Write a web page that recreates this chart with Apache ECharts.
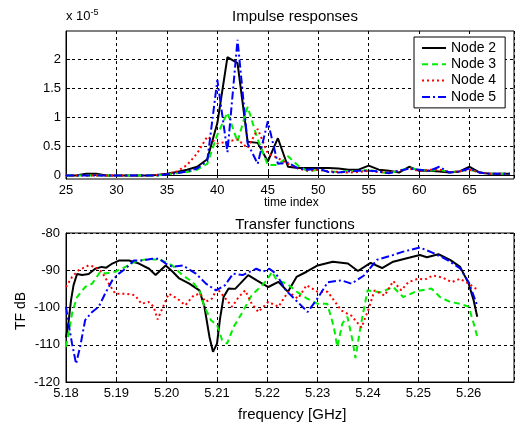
<!DOCTYPE html>
<html>
<head>
<meta charset="utf-8">
<script src="https://cdn.jsdelivr.net/npm/echarts@6/dist/echarts.min.js"></script>
<style>
  html, body { margin: 0; padding: 0; background: #fff; }
  #main { width: 520px; height: 428px; }
</style>
</head>
<body>
<div id="main"></div>
<script>
// impulse responses, time index 25..69, values in units of 1e-5
var timeIndex = [];
for (var t = 25; t <= 69; t++) timeIndex.push(t);
var irNode2 = [0, 0, 0.03, 0.03, 0, 0, 0, 0, 0, 0.01, 0.03, 0.06, 0.1, 0.15, 0.28, 0.9, 2.03, 1.93, 0.58, 0.56, 0.24, 0.64, 0.15, 0.13, 0.13, 0.13, 0.13, 0.12, 0.1, 0.1, 0.17, 0.1, 0.08, 0.05, 0.15, 0.08, 0.08, 0.07, 0.05, 0.07, 0.15, 0.05, 0.03, 0.03, 0.03];
var irNode3 = [0, 0, 0, 0, 0, 0, 0, 0, 0, 0, 0.02, 0.04, 0.06, 0.1, 0.2, 0.7, 1.08, 0.58, 1.18, 0.62, 0.18, 0.18, 0.33, 0.17, 0.07, 0.1, 0.07, 0.06, 0.08, 0.07, 0.1, 0.06, 0.04, 0.08, 0.13, 0.1, 0.08, 0.1, 0.06, 0.07, 0.1, 0.05, 0.03, 0.03, 0.03];
var irNode4 = [0, 0, 0, 0, 0, 0, 0, 0, 0, 0.01, 0.03, 0.07, 0.18, 0.38, 0.67, 0.55, 0.58, 0.62, 0.47, 0.8, 0.38, 0.3, 0.2, 0.12, 0.08, 0.1, 0.07, 0.06, 0.05, 0.06, 0.08, 0.06, 0.05, 0.08, 0.12, 0.08, 0.1, 0.1, 0.06, 0.07, 0.1, 0.05, 0.03, 0.03, 0.03];
var irNode5 = [0, 0, 0, 0, 0, 0, 0, 0, 0, 0, 0.02, 0.04, 0.07, 0.12, 0.25, 1.64, 0.4, 2.33, 0.55, 0.2, 0.93, 0.2, 0.22, 0.12, 0.1, 0.12, 0.06, 0.05, 0.07, 0.08, 0.08, 0.07, 0.04, 0.08, 0.12, 0.1, 0.08, 0.15, 0.05, 0.07, 0.12, 0.05, 0.03, 0.03, 0.03];
var irTicks = [0, 0.5, 1, 1.5, 2];

// transfer functions (frequency GHz, TF dB)
var tfNode2Freq = [5.18, 5.1805, 5.181, 5.1815, 5.1822, 5.1832, 5.1845, 5.1858, 5.1871, 5.188, 5.1892, 5.1905, 5.1925, 5.1945, 5.1965, 5.1978, 5.1988, 5.1998, 5.2012, 5.2025, 5.2045, 5.2065, 5.2075, 5.2085, 5.2092, 5.21, 5.2106, 5.2113, 5.2123, 5.2136, 5.2146, 5.2162, 5.2179, 5.2202, 5.2222, 5.2241, 5.2258, 5.2278, 5.23, 5.233, 5.236, 5.238, 5.2405, 5.2428, 5.245, 5.2483, 5.2503, 5.2517, 5.254, 5.2563, 5.2583, 5.26, 5.261, 5.2617];
var tfNode2 = [-108, -104, -98, -94, -91, -91.3, -91, -89.6, -89.1, -89.3, -88.2, -87.4, -87.4, -88.2, -89.6, -91.3, -90, -88.7, -90.4, -92.2, -93.6, -95.4, -99.8, -107.9, -111.9, -109.7, -103, -97.2, -94.9, -95, -93.6, -91.3, -92.7, -94.5, -93.1, -95.8, -91.8, -90.4, -88.7, -87.7, -88.2, -90.2, -88, -89.4, -87.7, -86.6, -85.9, -86.5, -85.7, -87.2, -89.1, -93.6, -98.2, -102.5];
var tfNode3Freq = [5.18, 5.1805, 5.1812, 5.1822, 5.1838, 5.1852, 5.1868, 5.1878, 5.1898, 5.1918, 5.1937, 5.1964, 5.1991, 5.2011, 5.2031, 5.2051, 5.2065, 5.2075, 5.2088, 5.21, 5.211, 5.212, 5.2133, 5.2149, 5.2169, 5.2186, 5.2199, 5.2209, 5.2219, 5.2239, 5.2259, 5.2279, 5.23, 5.2319, 5.2332, 5.2339, 5.2349, 5.2359, 5.2369, 5.2375, 5.2385, 5.2399, 5.2425, 5.245, 5.247, 5.2497, 5.2526, 5.2543, 5.2563, 5.2583, 5.26, 5.261, 5.2617];
var tfNode3 = [-110.6, -107, -101.6, -97.2, -94.5, -93.6, -90.4, -90.9, -90.4, -89.1, -87.7, -86.9, -87.4, -88.7, -91.3, -93.1, -95.4, -99.8, -103.4, -104.7, -108.7, -109.7, -105.2, -101.6, -96.7, -94.5, -92.7, -90.4, -92.7, -93.6, -95.8, -97.6, -99, -99, -105.2, -110.6, -104.3, -102.5, -108.7, -113.6, -105.2, -95.4, -95.9, -94.5, -97.2, -95.6, -94.9, -97.2, -98.5, -99, -99.8, -104.3, -107.9];
var tfNode4Freq = [5.18, 5.1812, 5.1825, 5.1845, 5.1858, 5.1871, 5.1885, 5.1898, 5.1918, 5.1937, 5.195, 5.1964, 5.1974, 5.1982, 5.199, 5.2004, 5.2021, 5.2037, 5.2054, 5.2067, 5.2077, 5.209, 5.21, 5.2117, 5.213, 5.2143, 5.2156, 5.2169, 5.2182, 5.2202, 5.2222, 5.2241, 5.2261, 5.2278, 5.23, 5.232, 5.2347, 5.2367, 5.2387, 5.24, 5.2413, 5.2433, 5.245, 5.2466, 5.248, 5.2499, 5.2513, 5.2529, 5.2549, 5.2566, 5.2583, 5.26, 5.2617];
var tfNode4 = [-94.5, -91.8, -90, -88.7, -89.1, -90.4, -93.6, -96.3, -96.3, -96.7, -99, -98.5, -99.8, -103.2, -100.7, -96.3, -97.6, -99.4, -96.7, -96.3, -98.5, -97.6, -94.9, -97.6, -99.8, -97.2, -95.4, -99, -101.2, -98.5, -99.8, -95.8, -97.6, -94, -95.8, -95.8, -100.8, -102.2, -105.4, -100.8, -95.4, -96.8, -92.9, -95.4, -93.2, -92.3, -92.5, -91.4, -92, -93.2, -92.3, -93.6, -95.2];
var tfNode5Freq = [5.18, 5.1805, 5.1812, 5.182, 5.1828, 5.1838, 5.1852, 5.1865, 5.1878, 5.1892, 5.1905, 5.1918, 5.1935, 5.1951, 5.1971, 5.1985, 5.1998, 5.2012, 5.2032, 5.2058, 5.2078, 5.2098, 5.2116, 5.2132, 5.2151, 5.2178, 5.2191, 5.2204, 5.2217, 5.2237, 5.2257, 5.228, 5.23, 5.232, 5.2347, 5.2367, 5.2392, 5.2418, 5.245, 5.247, 5.2503, 5.253, 5.2557, 5.2583, 5.26, 5.2617];
var tfNode5 = [-99.8, -104.3, -109.7, -115.1, -110.6, -103.4, -101.2, -99.8, -96.2, -92.7, -90.9, -89.6, -87.4, -87.4, -86.9, -86.9, -88.2, -89.1, -88.7, -90.9, -93.6, -95.4, -94, -90.9, -91.3, -89.6, -90.4, -89.6, -90.9, -95.4, -98.1, -101.2, -97.5, -93.2, -92.7, -93.6, -91.4, -87.2, -85.9, -85, -83.9, -85.4, -87.2, -89.5, -93.2, -99.5];

function pairs(xs, ys) {
  return xs.map(function (x, i) { return [x, ys[i]]; });
}

var font = 'Liberation Sans, Arial, sans-serif';
var gridLine = { show: true, lineStyle: { color: '#000', type: [3, 3], width: 1 } };
var tick = { show: true, inside: true, length: 4, lineStyle: { color: '#000' } };
var axLine = { show: true, lineStyle: { color: '#000', width: 1 } };
var lbl = { color: '#000', fontSize: 13, fontFamily: font };

var styles = {
  'Node 2': { color: '#000000', type: 'solid' },
  'Node 3': { color: '#00ee00', type: [6, 4] },
  'Node 4': { color: '#ff0000', type: [2, 3] },
  'Node 5': { color: '#0000ff', type: [8, 3, 2, 3] }
};

function line(name, data, idx) {
  var s = styles[name];
  return {
    name: name, type: 'line', data: data,
    xAxisIndex: idx, yAxisIndex: idx,
    symbol: 'none', silent: true, animation: false,
    itemStyle: { color: s.color },
    lineStyle: { color: s.color, type: s.type, width: 2 }
  };
}

var chart = echarts.init(document.getElementById('main'));
chart.setOption({
  backgroundColor: '#fff',
  animation: false,
  title: [
    { text: 'Impulse responses', left: 290, top: 4, textAlign: 'center',
      textStyle: { fontSize: 15, fontWeight: 'normal', color: '#000', fontFamily: font } },
    { text: 'Transfer functions', left: 290, top: 212, textAlign: 'center',
      textStyle: { fontSize: 15, fontWeight: 'normal', color: '#000', fontFamily: font } }
  ],
  graphic: [
    { type: 'text', left: 66, top: 8,
      style: { text: '{a|x 10}{b|-5}', rich: {
        a: { fontSize: 13, fontFamily: font, fill: '#000' },
        b: { fontSize: 9, fontFamily: font, fill: '#000', verticalAlign: 'top', padding: [0, 0, 8, 0] } } } },
    { type: 'text', left: 264, top: 197,
      style: { text: 'time index', fontSize: 12, fontFamily: font, fill: '#000' } },
    { type: 'text', left: 238, top: 407,
      style: { text: 'frequency [GHz]', fontSize: 15, fontFamily: font, fill: '#000' } },
    { type: 'text', x: 14, y: 330, rotation: Math.PI / 2,
      style: { text: 'TF dB', fontSize: 14, fontFamily: font, fill: '#000' } }
  ],
  legend: {
    data: ['Node 2', 'Node 3', 'Node 4', 'Node 5'],
    orient: 'vertical', left: 414, top: 37,
    itemWidth: 24, itemHeight: 14, itemGap: 2.3,
    padding: [4, 9, 4, 7],
    itemStyle: { opacity: 0, borderWidth: 0 },
    backgroundColor: '#fff', borderColor: '#000', borderWidth: 1,
    textStyle: { fontSize: 14, color: '#000', fontFamily: font }
  },
  grid: [
    { left: 66, top: 31, right: 6, height: 148, show: true, borderColor: '#000', borderWidth: 1, backgroundColor: '#fff' },
    { left: 66, top: 233, right: 6, height: 149, show: true, borderColor: '#000', borderWidth: 1, backgroundColor: '#fff' }
  ],
  xAxis: [
    { type: 'value', gridIndex: 0, min: 25, max: 69.4, interval: 5,
      axisLine: axLine, axisTick: tick, splitLine: gridLine,
      axisLabel: Object.assign({ margin: 5, showMaxLabel: false }, lbl) },
    { type: 'value', gridIndex: 1, min: 5.18, max: 5.269, interval: 0.01,
      axisLine: axLine, axisTick: tick, splitLine: gridLine,
      axisLabel: Object.assign({ margin: 5, showMaxLabel: false,
        formatter: function (v) { return v.toFixed(2); } }, lbl) }
  ],
  yAxis: [
    { type: 'value', gridIndex: 0, min: -0.06, max: 2.48,
      axisLine: axLine,
      axisTick: Object.assign({ customValues: irTicks }, tick),
      splitLine: gridLine,
      axisLabel: Object.assign({ margin: 5, customValues: irTicks }, lbl) },
    { type: 'value', gridIndex: 1, min: -120, max: -80, interval: 10,
      axisLine: axLine, axisTick: tick, splitLine: gridLine,
      axisLabel: Object.assign({ margin: 6 }, lbl) }
  ],
  series: [
    line('Node 2', pairs(timeIndex, irNode2), 0),
    line('Node 3', pairs(timeIndex, irNode3), 0),
    line('Node 4', pairs(timeIndex, irNode4), 0),
    line('Node 5', pairs(timeIndex, irNode5), 0),
    line('Node 2', pairs(tfNode2Freq, tfNode2), 1),
    line('Node 3', pairs(tfNode3Freq, tfNode3), 1),
    line('Node 4', pairs(tfNode4Freq, tfNode4), 1),
    line('Node 5', pairs(tfNode5Freq, tfNode5), 1)
  ]
});
</script>
</body>
</html>
